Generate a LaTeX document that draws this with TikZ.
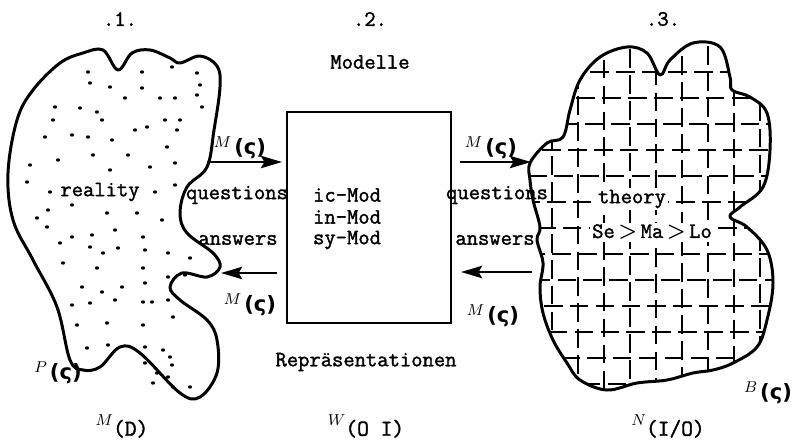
\documentclass[tikz,border=0pt]{standalone}
\usepackage{bm}
\usepackage{fontspec}
\usetikzlibrary{arrows.meta}

% typewriter face, slightly emboldened
\newfontfamily\tw{lmmono12-regular.otf}[FakeBold=1.6]
% heavy face for the bold (varsigma)
\newfontfamily\sigfont{DejaVu Sans Bold}

% small raised italic letter followed by a bold (varsigma)
\newcommand\mlab[1]{\raisebox{4pt}{\fontsize{9}{9}\selectfont$#1$}\,{\sigfont\fontsize{12}{12}\selectfont(ς)}}
% small raised italic letter followed by a typed index
\newcommand\ilab[2]{\raisebox{6pt}{\fontsize{9}{9}\selectfont$#1$}{\tw\fontsize{13}{13}\selectfont#2}}

% outline of the "reality" region
\newcommand\realityblob{plot[smooth cycle, tension=0.6] coordinates {
  (33,90) (60,63) (83,53) (103,50) (118,70) (132,53) (150,50) (170,58) (180,63)
  (200,56) (217,66) (220,87) (214,130) (207,167) (187,187) (180,213) (187,233)
  (213,253) (220,267) (207,277) (182,273) (170,287) (180,300) (207,320)
  (217,340) (217,373) (200,397) (180,393) (140,353) (120,347) (100,367)
  (83,370) (70,360) (57,307) (33,260) (13,220) (8,173) (17,120)}}

% outline of the "theory" region
\newcommand\theoryblob{plot[smooth cycle, tension=0.6] coordinates {
  (530,163) (547,143) (563,137) (570,110) (580,80) (600,57) (627,47) (647,53)
  (660,75) (670,60) (693,43) (720,47) (730,77) (732,90) (750,97) (767,113)
  (770,150) (763,187) (740,207) (730,217) (747,227) (767,250) (773,283)
  (767,320) (757,347) (733,363) (713,370) (693,373) (667,380) (637,383)
  (607,390) (580,380) (567,363) (553,340) (543,313) (540,287) (543,263)
  (537,240) (540,227) (533,200) (530,180)}}

\begin{document}
\begin{tikzpicture}[x=0.02cm, y=-0.02cm,
  txt/.style={font=\tw\fontsize{12.5}{14}\selectfont, inner sep=1pt},
  lab/.style={inner sep=0pt},
  outline/.style={line width=1.7pt, line join=round},
  flow/.style={line width=1.4pt, -{Stealth[length=12pt, width=7pt, inset=2pt]}},
  modelbox/.style={draw, line width=1.5pt, minimum width=3.28cm, minimum height=4.22cm, inner sep=0pt},
  dot/.style={fill=black},
  hatch/.style={line width=1.2pt, dash pattern=on 10.6pt off 4.14pt}]

\useasboundingbox (0,0) rectangle (794,440);

% column titles
\node[txt] (t1) at (120,19) {.1.};
\node[txt] (t2) at (370,19) {.2.};
\node[txt] (t3) at (663,19) {.3.};
\node[txt] (modelle) at (370,62) {Modelle};

% ---- region 1: reality ----
\draw[outline] \realityblob;
\foreach \p in {(88,72),(142,72),(172,67),(197,73),(90,83),(110,87),(142,88),(200,85),
  (125,98),(160,98),(175,98),(197,95),(55,107),(80,108),(97,112),(202,107),(53,120),
  (102,120),(165,120),(180,120),(45,137),(72,135),(88,137),(112,140),(135,130),(147,127),
  (177,130),(93,155),(128,155),(58,160),(167,147),(30,165),(110,170),(150,167),(175,163),
  (27,182),(50,192),(155,192),(175,185),(48,210),(37,218),(72,205),(107,213),(137,213),
  (162,220),(47,227),(72,237),(92,235),(115,230),(143,237),(60,243),(90,247),(103,253),
  (118,248),(145,250),(168,253),(63,263),(190,258),(97,268),(143,268),(185,275),(82,287),
  (102,292),(122,287),(145,283),(168,277),(72,305),(90,303),(115,300),(143,302),(152,302),
  (168,300),(77,325),(107,323),(143,325),(173,317),(87,348),(108,345),(145,347),(163,350),
  (170,357),(145,363),(172,365),(157,373),(168,377),(153,383),(173,387),(190,387)}
  \fill[dot] \p ellipse (2.1 and 1.7);
\node[txt] (reality) at (100,192) {reality};
\node[lab] (p) at (58,373) {\mlab{P}};
\node[lab] (mD) at (122,426) {\ilab{M}{(D)}};

% ---- region 2: models ----
\node[modelbox] (box) at (369,217.5) {};
\node[txt, anchor=west] (ic) at (311,195) {ic-Mod};
\node[txt, anchor=west] (in) at (311,217) {in-Mod};
\node[txt, anchor=west] (sy) at (311,240) {sy-Mod};
\node[txt] (repr) at (366,362) {Repräsentationen};
\node[lab] (w) at (366,426) {\ilab{W}{(O I)}};

% ---- region 3: theory, filled with a broken grid ----
\begin{scope}
  \clip \theoryblob;
  \foreach \k/\ph in {0/3,1/11,2/6,3/1,4/9,5/13,6/4,7/10,8/7,9/0,10/12,11/5,12/8} {
    \draw[hatch, dash phase=\ph pt] (518,72+26*\k) -- (790,72+26*\k);
  }
  \foreach \k/\ph in {0/5,1/12,2/2,3/8,4/14,5/4,6/10,7/1,8/7,9/13,10/3} {
    \draw[hatch, dash phase=\ph pt] (526+26*\k,22) -- (526+26*\k,400);
  }
\end{scope}
\draw[outline] \theoryblob;
\node[txt, fill=white] (theory) at (632,199) {theory};
\node[txt, fill=white] (semalo) at (652,232) {Se$\,\bm{>}\,$Ma$\,\bm{>}\,$Lo};
\node[lab] (b) at (768,393) {\mlab{B}};
\node[lab] (n) at (668,426) {\ilab{N}{(I/O)}};

% ---- exchanges between the regions ----
\coordinate (l1) at (207,162);  \coordinate (l2) at (282,162);
\coordinate (l3) at (277,273);  \coordinate (l4) at (221,273);
\coordinate (r1) at (460,162);  \coordinate (r2) at (531,162);
\coordinate (r3) at (532,272);  \coordinate (r4) at (461,272);
\draw[flow] (l1) -- (l2);
\draw[flow] (l3) -- (l4);
\draw[flow] (r1) -- (r2);
\draw[flow] (r3) -- (r4);

\node[lab] (ml1) at (240,148) {\mlab{M}};
\node[lab] (ml2) at (250,305) {\mlab{M}};
\node[lab] (mr1) at (491,148) {\mlab{M}};
\node[lab] (mr2) at (493,316) {\mlab{M}};

\node[txt] (q1) at (237,195) {questions};
\node[txt] (a1) at (238,240) {answers};
\node[txt] (q2) at (497,195) {questions};
\node[txt] (a2) at (495,240) {answers};
\end{tikzpicture}
\end{document}
